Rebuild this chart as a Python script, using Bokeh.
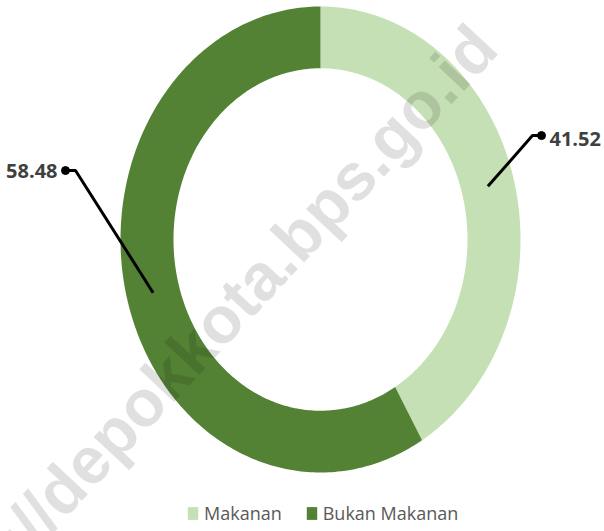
import numpy as np
from bokeh.plotting import figure
from bokeh.models import ColumnDataSource, Label, Range1d
from bokeh.core.properties import value
from bokeh.embed import file_html
from bokeh.resources import INLINE

# ---- data ----
categories = ["Makanan", "Bukan Makanan"]
values = [41.52, 58.48]
colors = ["#C5E0B4", "#548235"]
label_texts = [f"{v:.2f}" for v in values]

# ---- layout (data units: outer radius = 1) ----
R_OUT = 1.0
R_IN = 0.735
R_MID = (R_OUT + R_IN) / 2
# leader elbow / dot / text anchors per slice
elbow = [(1.06, 0.446), (-1.225, 0.296)]
dot = [(1.105, 0.446), (-1.275, 0.296)]
txt = [(1.145, 0.43), (-1.315, 0.294)]
align = ["left", "right"]

fr = np.array(values) / sum(values)
cum = np.concatenate([[0.0], np.cumsum(fr)])
starts = np.pi / 2 - 2 * np.pi * cum[:-1]
ends = np.pi / 2 - 2 * np.pi * cum[1:]
mids = (starts + ends) / 2

xs, ys = [], []
for a0, a1 in zip(starts, ends):
    t = np.linspace(a0, a1, 240)
    x = np.concatenate([R_OUT * np.cos(t), R_IN * np.cos(t[::-1])])
    y = np.concatenate([R_OUT * np.sin(t), R_IN * np.sin(t[::-1])])
    xs.append(list(x))
    ys.append(list(y))

src = ColumnDataSource(dict(xs=xs, ys=ys, color=colors, cat=categories))

W, H = 604, 531
cx_px, cy_px = 320, 239
sx, sy = 200.0, 233.0
p = figure(width=W, height=H,
           x_range=Range1d(-cx_px / sx, (W - cx_px) / sx),
           y_range=Range1d(-(H - cy_px) / sy, cy_px / sy),
           output_backend="svg", toolbar_location=None, min_border=0,
           x_axis_location=None, y_axis_location=None)
p.grid.visible = False
p.outline_line_color = None

p.patches("xs", "ys", source=src, fill_color="color", line_color=None,
          legend_field="cat")

# leader lines
lx, ly = [], []
for i, m in enumerate(mids):
    lx.append([R_MID * np.cos(m), elbow[i][0], dot[i][0]])
    ly.append([R_MID * np.sin(m), elbow[i][1], dot[i][1]])
p.multi_line(lx, ly, line_color="black", line_width=3)
p.scatter([d[0] for d in dot], [d[1] for d in dot], size=8, color="black")

for i in range(len(values)):
    p.text([txt[i][0]], [txt[i][1]], text=[label_texts[i]],
           text_align=align[i], text_baseline="middle",
           text_font=value("Open Sans"), text_font_style="bold",
           text_font_size="20px", text_color="#404040")

lg = p.legend[0]
lg.location = (186, 6)
lg.orientation = "horizontal"
lg.glyph_width = 13
lg.glyph_height = 16
lg.label_height = 16
lg.label_standoff = 5
lg.spacing = 23
lg.padding = 0
lg.margin = 0
lg.border_line_color = None
lg.background_fill_alpha = 0
lg.label_text_font = "Open Sans"
lg.label_text_font_size = "18px"
lg.label_text_color = "#595959"

wm = Label(x=190, y=181, x_units="screen", y_units="screen",
           text="https://depokkota.bps.go.id", angle=47, angle_units="deg",
           text_align="center", text_baseline="middle",
           text_font="Liberation Sans", text_font_style="bold",
           text_font_size="66px", text_color="black", text_alpha=0.12)
p.add_layout(wm)

open("out.html", "w").write(file_html(p, INLINE))
